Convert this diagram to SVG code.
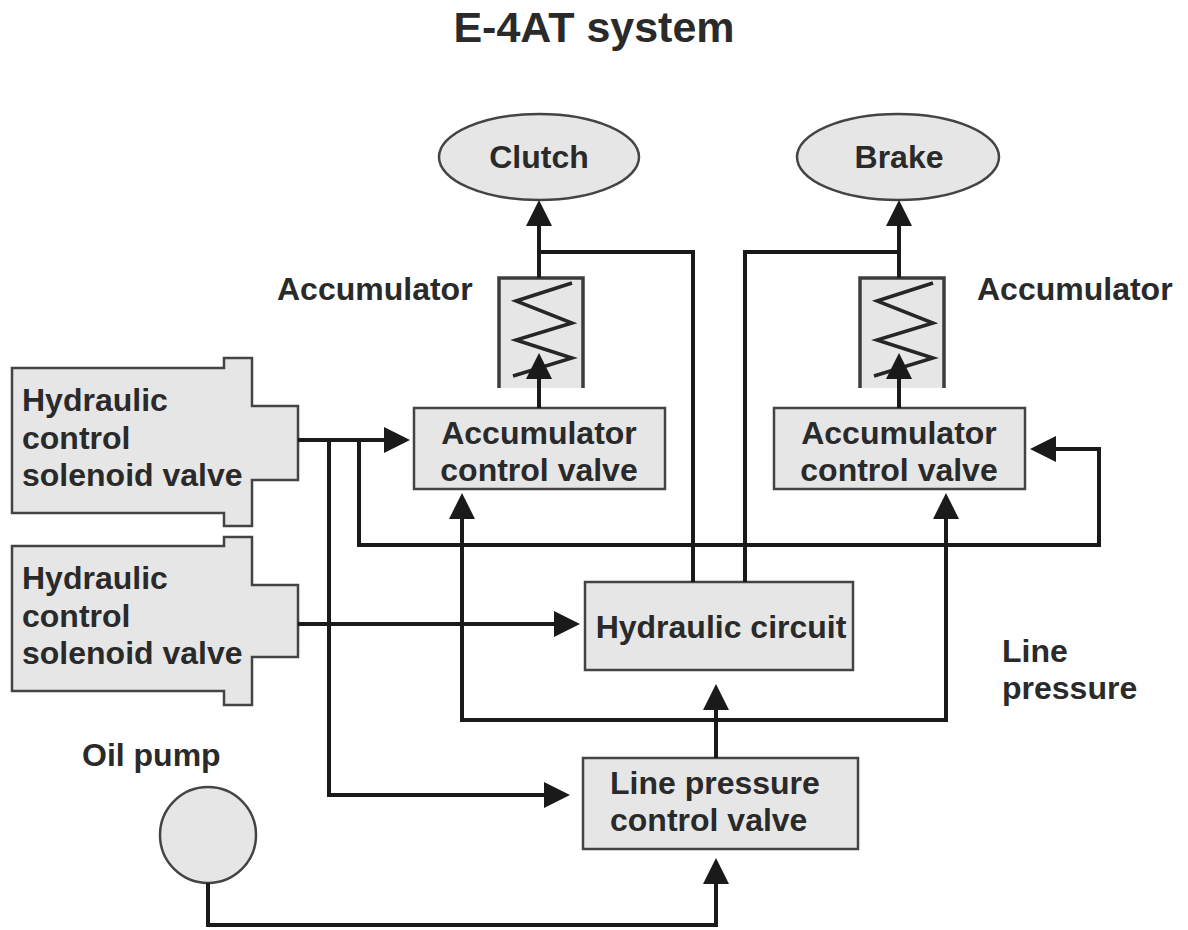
<svg xmlns="http://www.w3.org/2000/svg" width="1188" height="930" viewBox="0 0 1188 930">
<defs>
<marker id="arrow" markerUnits="userSpaceOnUse" markerWidth="30" markerHeight="30" refX="22" refY="13" orient="auto" viewBox="0 0 30 30"><path d="M0,0 L26,13 L0,26 Z" fill="#1a1a1a"/></marker>
</defs>
<style>
.n{fill:#e6e6e6;stroke:#444;stroke-width:2.5}
.t{font-family:"Liberation Sans",Arial,sans-serif;font-weight:bold;font-size:32px;fill:#2a2a2a}
.c{fill:none;stroke:#1a1a1a;stroke-width:4}
.a{marker-end:url(#arrow)}
.w{fill:none;stroke:#262626;stroke-width:3.5}
.wall{fill:none;stroke:#3c3c3c;stroke-width:3.5}
</style>
<rect width="1188" height="930" fill="#fff"/>
<text class="t" x="594" y="42" text-anchor="middle" style="font-size:43px">E-4AT system</text>
<g id="clutch"><ellipse class="n" cx="539" cy="157" rx="100" ry="43"/><text class="t" x="539" y="168" text-anchor="middle">Clutch</text></g>
<g id="brake"><ellipse class="n" cx="898" cy="157" rx="101" ry="43"/><text class="t" x="899" y="168" text-anchor="middle">Brake</text></g>
<g id="accumulator-left"><rect x="499" y="278" width="84" height="110" fill="#e6e6e6"/><path class="wall" d="M499,388 V278 H583 V388"/><path class="w" d="M572,283 L516,301 L572,323 L516,340 L572,358 L513,376"/><text class="t" x="277" y="300">Accumulator</text></g>
<g id="accumulator-right"><rect x="860" y="278" width="84" height="110" fill="#e6e6e6"/><path class="wall" d="M860,388 V278 H944 V388"/><path class="w" d="M933,283 L877,301 L933,323 L877,340 L933,358 L874,376"/><text class="t" x="977" y="300">Accumulator</text></g>
<g id="solenoid-1"><path class="n" d="M12,368 H224 V358 H252 V406 H298 V480 H252 V526 H224 V513 H12 Z"/><text class="t" x="22" y="411">Hydraulic</text><text class="t" x="22" y="449">control</text><text class="t" x="22" y="486">solenoid valve</text></g>
<g id="solenoid-2"><path class="n" d="M12,546 H224 V537 H252 V585 H298 V657 H252 V705 H224 V691 H12 Z"/><text class="t" x="22" y="589">Hydraulic</text><text class="t" x="22" y="627">control</text><text class="t" x="22" y="664">solenoid valve</text></g>
<g id="acv-left"><rect class="n" x="414" y="408" width="251" height="81"/><text class="t" x="539" y="444" text-anchor="middle">Accumulator</text><text class="t" x="539" y="481" text-anchor="middle">control valve</text></g>
<g id="acv-right"><rect class="n" x="774" y="408" width="251" height="81"/><text class="t" x="899" y="444" text-anchor="middle">Accumulator</text><text class="t" x="899" y="481" text-anchor="middle">control valve</text></g>
<g id="hydraulic-circuit"><rect class="n" x="585" y="582" width="268" height="88"/><text class="t" x="721" y="638" text-anchor="middle">Hydraulic circuit</text></g>
<g id="line-pressure-valve"><rect class="n" x="583" y="758" width="275" height="91"/><text class="t" x="610" y="794">Line pressure</text><text class="t" x="610" y="831">control valve</text></g>
<g id="oil-pump"><circle class="n" cx="208" cy="835" r="48"/><text class="t" x="82" y="766">Oil pump</text></g>
<g id="line-pressure-label"><text class="t" x="1002" y="662">Line</text><text class="t" x="1002" y="699">pressure</text></g>
<g id="connectors">
<path class="c" d="M539,278 V252 H693 V582"/>
<path class="c a" d="M539,252 V204"/>
<path class="c" d="M899,278 V252 H745 V582"/>
<path class="c a" d="M899,252 V204"/>
<path class="c a" d="M539,408 V357"/>
<path class="c a" d="M899,408 V357"/>
<path class="c a" d="M298,440 H406"/>
<path class="c a" d="M359,440 V545 H1099 V449 H1034"/>
<path class="c a" d="M329,440 V795 H566"/>
<path class="c a" d="M298,624 H576"/>
<path class="c a" d="M716,758 V688"/>
<path class="c a" d="M716,720 H462 V497"/>
<path class="c a" d="M716,720 H946 V497"/>
<path class="c a" d="M208,883 V925 H716 V862"/>
</g>
</svg>
